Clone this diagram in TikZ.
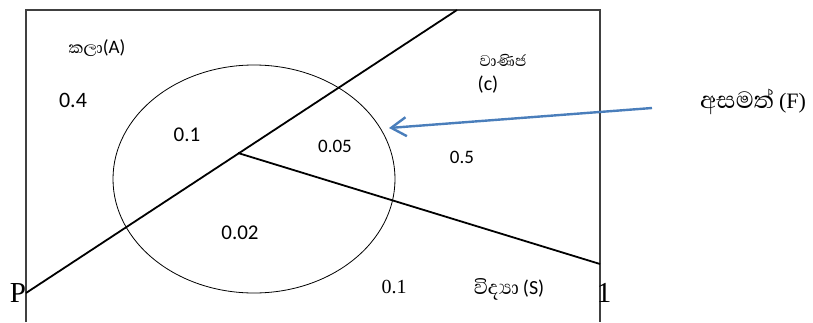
\documentclass[tikz,border=0pt]{standalone}
\usepackage{fontspec}
\setmainfont{Liberation Serif}
\newfontfamily\sinfont[Script=Sinhala]{Abhaya Libre}
\newfontfamily\calib{Carlito}
\usetikzlibrary{arrows.meta}
\definecolor{arrowblue}{RGB}{74,126,187}
\begin{document}
\begin{tikzpicture}[x=1pt,y=-1pt,
  frame/.style={line width=1.2pt, black!75},
  divline/.style={line width=1.8pt, black},
  sanslab/.style={inner sep=0pt, font=\calib\fontsize{21}{24}\selectfont},
  seriflab/.style={inner sep=0pt, font=\fontsize{20}{24}\selectfont},
  sinlab/.style={inner sep=0pt, font=\fontsize{18}{22}\selectfont}]
\useasboundingbox (0,0) rectangle (813,322);
\coordinate (fbl) at (26,322);
\coordinate (ftl) at (26,10);
\coordinate (ftr) at (600,10);
\coordinate (fbr) at (600,322);
\draw[frame] (fbl) -- (ftl) -- (ftr) -- (fbr);
\coordinate (pp) at (26,293);
\coordinate (top) at (457,10);
\coordinate (cen) at (238,153);
\coordinate (rr) at (600,264);
\draw[line width=0.8pt] (254,179) ellipse [x radius=141, y radius=114];
\draw[divline] (pp) -- (top);
\draw[divline] (cen) -- (rr);
\coordinate (as) at (652,108);
\coordinate (ae) at (389,128);
\draw[arrowblue, line width=2.4pt, -{Straight Barb[length=15pt,width=19pt]}] (as) -- (ae);
\node[sinlab] (kala) at (97,48) {{\sinfont\fontsize{21}{24}\selectfont කලා}{\calib\fontsize{19}{22}\selectfont(A)}};
\node[sanslab, font=\calib\fontsize{22}{26}\selectfont] (p04) at (73,100) {0.4};
\node[sanslab] (p01) at (187,135) {0.1};
\node[sanslab, font=\calib\fontsize{19}{22}\selectfont] (p005) at (335,146) {0.05};
\node[sanslab, font=\calib\fontsize{19}{22}\selectfont] (p05) at (462,157) {0.5};
\node[sanslab] (p002) at (240,233) {0.02};
\node[sinlab, font=\sinfont\fontsize{20}{23}\selectfont] (vanija) at (503,60) {වාණිජ};
\node[sanslab, font=\calib\fontsize{20}{24}\selectfont] (cl) at (488,85) {(c)};
\node[inner sep=0pt] (fail) at (753,102) {{\sinfont\fontsize{30}{34}\selectfont අසමත්}\hspace{5pt}{\fontsize{22}{26}\selectfont(F)}};
\node[inner sep=0pt, font=\fontsize{29}{32}\selectfont] (plab) at (18,293) {P};
\node[seriflab] (s01) at (394,287) {0.1};
\node[inner sep=0pt] (vidya) at (509,289) {{\sinfont\fontsize{25}{28}\selectfont විද්‍යා}\hspace{4pt}{\calib\fontsize{20}{24}\selectfont(S)}};
\node[inner sep=0pt, font=\fontsize{29}{32}\selectfont] (one) at (604,293) {1};
\end{tikzpicture}
\end{document}
